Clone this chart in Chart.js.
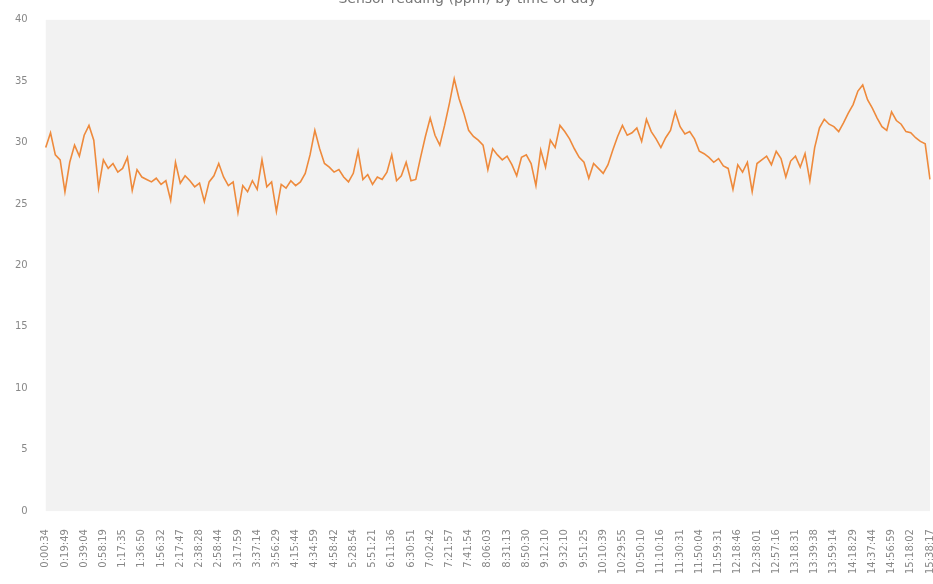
<!DOCTYPE html>
<html>
<head>
<meta charset="utf-8">
<script src="https://cdn.jsdelivr.net/npm/chart.js@4/dist/chart.umd.min.js"></script>
<style>
  html, body { margin: 0; padding: 0; background: #fff; }
  #wrap { width: 933px; height: 584px; }
</style>
</head>
<body>
<div id="wrap"><canvas id="chart"></canvas></div>
<script>
// tick labels shown on the time axis (one every 4 readings)
var tickLabels = [
  '0:00:34', '0:19:49', '0:39:04', '0:58:19', '1:17:35', '1:36:50', '1:56:32', '2:17:47',
  '2:38:28', '2:58:44', '3:17:59', '3:37:14', '3:56:29', '4:15:44', '4:34:59', '4:58:42',
  '5:28:54', '5:51:21', '6:11:36', '6:30:51', '7:02:42', '7:21:57', '7:41:54', '8:06:03',
  '8:31:13', '8:50:30', '9:12:10', '9:32:10', '9:51:25', '10:10:39', '10:29:55', '10:50:10',
  '11:10:16', '11:30:31', '11:50:04', '11:59:31', '12:18:46', '12:38:01', '12:57:16', '13:18:31',
  '13:39:38', '13:59:14', '14:18:29', '14:37:44', '14:56:59', '15:18:02', '15:38:17'
];
var stepPerTick = 4;

// readings (ppm)
var readings = [
  29.6, 30.8, 29.0, 28.6, 26.0, 28.4, 29.8, 28.9, 30.6, 31.4,
  30.2, 26.3, 28.6, 27.9, 28.3, 27.6, 27.9, 28.8, 26.1, 27.8,
  27.2, 27.0, 26.8, 27.1, 26.6, 26.9, 25.3, 28.4, 26.7, 27.3,
  26.9, 26.4, 26.7, 25.2, 26.8, 27.3, 28.3, 27.2, 26.5, 26.8,
  24.3, 26.5, 26.0, 26.9, 26.2, 28.6, 26.4, 26.8, 24.4, 26.6,
  26.3, 26.9, 26.5, 26.8, 27.5, 29.0, 31.0, 29.5, 28.3, 28.0,
  27.6, 27.8, 27.2, 26.8, 27.5, 29.3, 27.0, 27.4, 26.6, 27.2,
  27.0, 27.6, 29.0, 26.9, 27.3, 28.4, 26.9, 27.0, 28.8, 30.5,
  32.0, 30.6, 29.8, 31.4, 33.2, 35.2, 33.6, 32.4, 31.0, 30.5,
  30.2, 29.8, 27.8, 29.5, 29.0, 28.6, 28.9, 28.2, 27.3, 28.8,
  29.0, 28.3, 26.5, 29.4, 28.0, 30.2, 29.6, 31.4, 30.9, 30.3,
  29.5, 28.8, 28.4, 27.1, 28.3, 27.9, 27.5, 28.2, 29.4, 30.5,
  31.4, 30.6, 30.8, 31.2, 30.1, 31.9, 30.9, 30.3, 29.6, 30.4,
  31.0, 32.5, 31.3, 30.7, 30.9, 30.3, 29.3, 29.1, 28.8, 28.4,
  28.7, 28.1, 27.9, 26.2, 28.2, 27.6, 28.4, 26.0, 28.3, 28.6,
  28.9, 28.2, 29.3, 28.7, 27.2, 28.5, 28.9, 28.0, 29.1, 26.9,
  29.6, 31.2, 31.9, 31.5, 31.3, 30.9, 31.6, 32.4, 33.1, 34.2,
  34.7, 33.5, 32.8, 32.0, 31.3, 31.0, 32.5, 31.8, 31.5, 30.9,
  30.8, 30.4, 30.1, 29.9, 27.0
];

var yTicks = [0, 5, 10, 15, 20, 25, 30, 35, 40];

// one category per reading, named only where a tick label falls
var labels = readings.map(function(v, i) {
  return i % stepPerTick === 0 ? (tickLabels[i / stepPerTick] || '') : '';
});

var plotBg = {
  id: 'plotBg',
  beforeDraw: function(chart) {
    var a = chart.chartArea, ctx = chart.ctx;
    ctx.save();
    ctx.fillStyle = '#f2f2f2';
    ctx.fillRect(a.left, a.top, a.right - a.left, a.bottom - a.top);
    ctx.restore();
  }
};

new Chart(document.getElementById('chart'), {
  type: 'line',
  data: {
    labels: labels,
    datasets: [{
      label: 'ppm',
      data: readings,
      borderColor: '#ee8a3c',
      borderWidth: 1.6,
      pointRadius: 0,
      tension: 0,
      fill: false
    }]
  },
  options: {
    responsive: true,
    maintainAspectRatio: false,
    animation: false,
    layout: { padding: { left: 5, right: 3, top: 0, bottom: 0 } },
    plugins: {
      legend: { display: false },
      tooltip: { enabled: false },
      title: {
        display: true,
        text: 'Sensor reading (ppm) by time of day',
        color: '#777',
        font: { family: 'DejaVu Sans', size: 14, weight: 'normal' },
        padding: { top: -9, bottom: 12 }
      }
    },
    scales: {
      x: {
        grid: { display: false },
        border: { display: false },
        afterFit: function(axis) {
          // last rotated label needs no extra room on the right
          axis.paddingRight = 0;
        },
        ticks: {
          autoSkip: false,
          maxRotation: 90,
          minRotation: 90,
          padding: 10,
          color: '#888',
          font: { family: 'DejaVu Sans', size: 10 }
        }
      },
      y: {
        min: 0,
        max: 40,
        afterBuildTicks: function(axis) {
          axis.ticks = yTicks.map(function(v) { return { value: v }; });
        },
        grid: { display: false },
        border: { display: false },
        ticks: {
          padding: 10,
          color: '#888',
          font: { family: 'DejaVu Sans', size: 10 }
        }
      }
    }
  },
  plugins: [plotBg]
});
</script>
</body>
</html>
